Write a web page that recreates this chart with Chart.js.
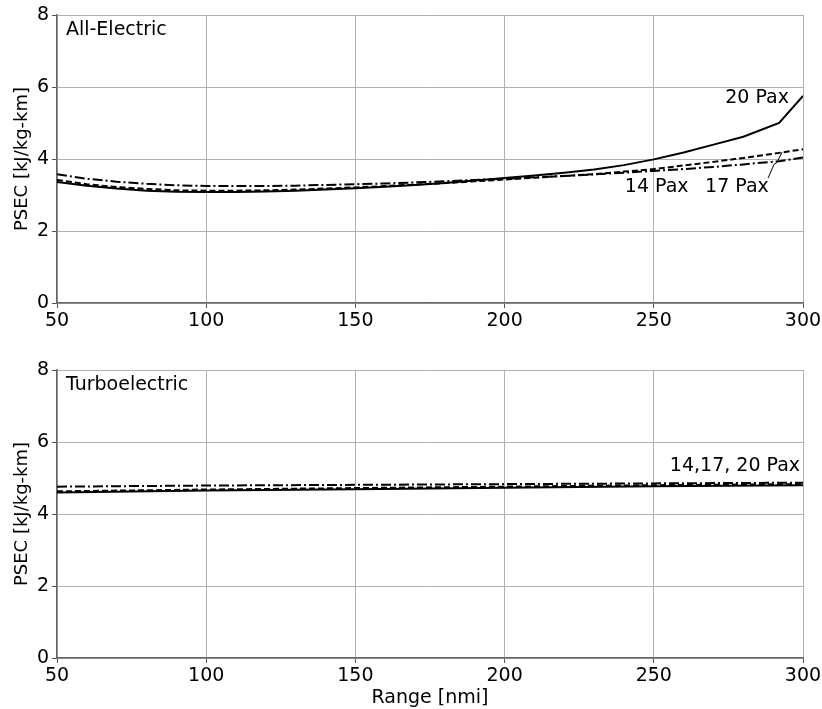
<!DOCTYPE html>
<html>
<head>
<meta charset="utf-8">
<script src="https://cdn.jsdelivr.net/npm/chart.js@4.4.1/dist/chart.umd.min.js"></script>
<style>
  html, body { margin: 0; padding: 0; background: #fff; }
  #wrap { position: relative; width: 822px; height: 709px; }
  .box { position: absolute; left: 0; width: 822px; }
  #topBox { top: 0; height: 335px; }
  #botBox { top: 340px; height: 369px; }
</style>
</head>
<body>
<div id="wrap">
  <div class="box" id="topBox"><canvas id="chartTop"></canvas></div>
  <div class="box" id="botBox"><canvas id="chartBot"></canvas></div>
</div>
<script>
// Datos
const rangoTop = [50, 60, 70, 80, 90, 100, 110, 120, 130, 140, 150, 160, 170, 180, 190, 200, 210, 220, 230, 240, 250, 260, 270, 280, 292, 300];
const elec20 = [3.36, 3.26, 3.18, 3.12, 3.09, 3.08, 3.08, 3.10, 3.12, 3.15, 3.19, 3.23, 3.28, 3.33, 3.40, 3.47, 3.54, 3.62, 3.71, 3.83, 3.99, 4.18, 4.40, 4.62, 5.00, 5.75];
const elec17 = [3.42, 3.30, 3.22, 3.17, 3.13, 3.12, 3.12, 3.13, 3.15, 3.18, 3.21, 3.25, 3.29, 3.33, 3.38, 3.43, 3.48, 3.53, 3.58, 3.65, 3.72, 3.82, 3.92, 4.03, 4.17, 4.27];
const elec14 = [3.58, 3.45, 3.37, 3.31, 3.27, 3.25, 3.25, 3.25, 3.26, 3.28, 3.30, 3.32, 3.35, 3.38, 3.42, 3.45, 3.49, 3.53, 3.57, 3.62, 3.67, 3.72, 3.78, 3.85, 3.94, 4.04];

const rangoBot = [50, 100, 150, 200, 250, 300];
const turbo20 = [4.60, 4.65, 4.69, 4.73, 4.77, 4.80];
const turbo17 = [4.63, 4.68, 4.72, 4.76, 4.80, 4.83];
const turbo14 = [4.76, 4.79, 4.81, 4.83, 4.85, 4.87];

const xTicks = [50, 100, 150, 200, 250, 300];
const yTicks = [0, 2, 4, 6, 8];

const FUENTE = "'DejaVu Sans', sans-serif";
const estilos = {
  sol: [],
  dash: [6, 3],
  dashdot: [10, 3, 2, 3]
};

function serie(xs, ys, dash) {
  return {
    data: xs.map((x, i) => ({ x: x, y: ys[i] })),
    borderColor: "#000",
    borderWidth: 2,
    borderDash: dash,
    pointRadius: 0,
    tension: 0,
    fill: false
  };
}

// Plugin para textos y flecha
const textosPlugin = {
  id: "textos",
  afterDatasetsDraw(chart, args, opts) {
    const ctx = chart.ctx;
    const xs = chart.scales.x, ys = chart.scales.y;
    ctx.save();
    ctx.fillStyle = "#000";
    ctx.font = "19px " + FUENTE;
    ctx.textBaseline = "middle";
    (opts.items || []).forEach(t => {
      ctx.textAlign = t.align || "left";
      ctx.fillText(t.text, xs.getPixelForValue(t.x), ys.getPixelForValue(t.y));
    });
    if (opts.flecha) {
      ctx.strokeStyle = "#000";
      ctx.lineWidth = 1;
      ctx.beginPath();
      opts.flecha.forEach((p, i) => {
        const px = xs.getPixelForValue(p[0]), py = ys.getPixelForValue(p[1]);
        if (i === 0) ctx.moveTo(px, py); else ctx.lineTo(px, py);
      });
      ctx.stroke();
    }
    ctx.restore();
  }
};

function opciones(padTop, conTituloX, textos, flecha) {
  return {
    responsive: true,
    maintainAspectRatio: false,
    animation: false,
    layout: { padding: { top: padTop, right: 19, left: 0, bottom: 0 } },
    plugins: {
      legend: { display: false },
      tooltip: { enabled: false },
      textos: { items: textos, flecha: flecha }
    },
    scales: {
      x: {
        type: "linear",
        min: 50, max: 300,
        afterBuildTicks: s => { s.ticks = xTicks.map(v => ({ value: v })); },
        ticks: { color: "#000", font: { family: FUENTE, size: 19 }, padding: 2, maxRotation: 0 },
        grid: { color: "#b0b0b0", lineWidth: 1, tickLength: 5, tickColor: "#555" },
        border: { color: "#666", width: 1.5 },
        title: { display: conTituloX, text: "Range [nmi]", color: "#000", font: { family: FUENTE, size: 19 }, padding: { top: 0, bottom: 0 } },
        afterFit: s => {
          s.height = conTituloX ? 51 : 32;
          s.paddingLeft = 0;
          s.paddingRight = 0;
        }
      },
      y: {
        min: 0, max: 8,
        afterBuildTicks: s => { s.ticks = yTicks.map(v => ({ value: v })); },
        ticks: { color: "#000", font: { family: FUENTE, size: 19 }, padding: 3 },
        grid: { color: "#b0b0b0", lineWidth: 1, tickLength: 5, tickColor: "#555" },
        border: { color: "#666", width: 1.5 },
        title: { display: true, text: "PSEC [kJ/kg-km]", color: "#000", font: { family: FUENTE, size: 18 }, padding: { top: 12, bottom: 0 } },
        afterFit: s => {
          s.width = 57;
          s.paddingTop = 0;
          s.paddingBottom = 0;
        }
      }
    }
  };
}

new Chart(document.getElementById("chartTop"), {
  type: "line",
  data: {
    datasets: [
      serie(rangoTop, elec20, estilos.sol),
      serie(rangoTop, elec17, estilos.dash),
      serie(rangoTop, elec14, estilos.dashdot)
    ]
  },
  options: opciones(15, false, [
    { text: "All-Electric", x: 53, y: 7.58 },
    { text: "20 Pax", x: 295.3, y: 5.69, align: "right" },
    { text: "14 Pax", x: 240.3, y: 3.22 },
    { text: "17 Pax", x: 267.2, y: 3.22 }
  ], [[288.3, 3.47], [290.3, 3.85], [291.2, 3.9], [293, 4.19]]),
  plugins: [textosPlugin]
});

new Chart(document.getElementById("chartBot"), {
  type: "line",
  data: {
    datasets: [
      serie(rangoBot, turbo20, estilos.sol),
      serie(rangoBot, turbo17, estilos.dash),
      serie(rangoBot, turbo14, estilos.dashdot)
    ]
  },
  options: opciones(30, true, [
    { text: "Turboelectric", x: 53, y: 7.58 },
    { text: "14,17, 20 Pax", x: 299, y: 5.33, align: "right" }
  ], null),
  plugins: [textosPlugin]
});
</script>
</body>
</html>
